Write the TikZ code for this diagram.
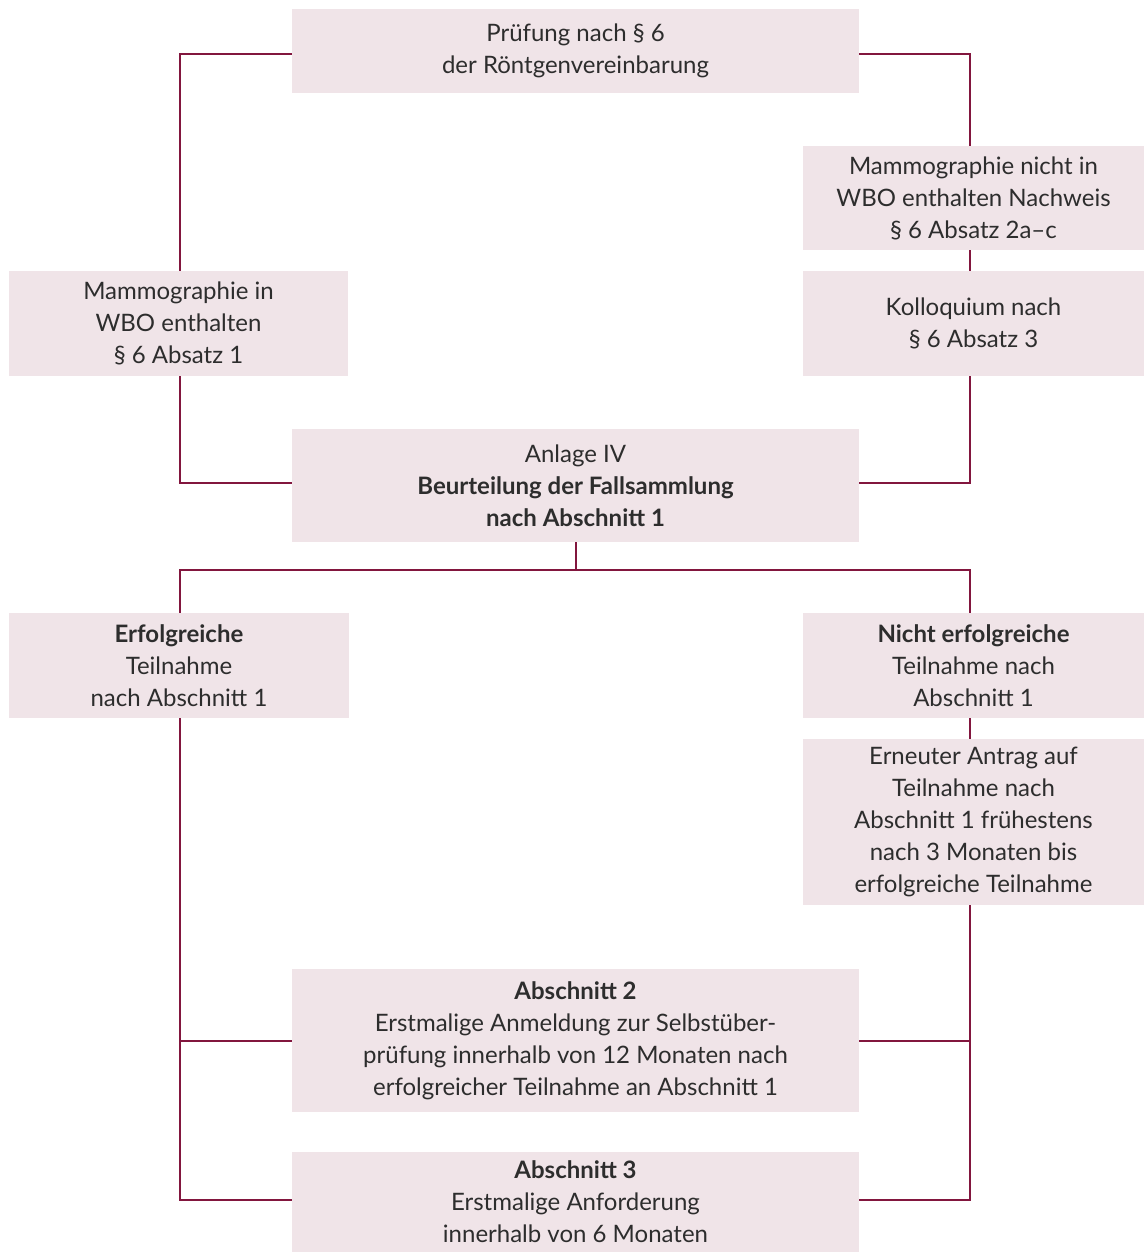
\documentclass[tikz,border=0pt]{standalone}
\usepackage{fontspec}
\setmainfont{Lato}
\definecolor{boxfill}{RGB}{240,228,232}
\definecolor{conncol}{RGB}{130,22,62}
\definecolor{txt}{RGB}{45,45,45}
\begin{document}
\begin{tikzpicture}[x=1pt,y=-1pt,
  box/.style={fill=boxfill, draw=none, inner sep=0pt, align=center, text=txt,
    font=\fontsize{24}{32}\selectfont},
  conn/.style={draw=conncol, line width=2pt}]
\useasboundingbox (0,0) rectangle (1147,1252);
\node[box, minimum width=567, minimum height=84] (top) at (575.5,51) {Prüfung nach § 6\\der Röntgenvereinbarung};
\node[box, minimum width=341, minimum height=104] (r1) at (973.5,198) {Mammographie nicht in\\WBO enthalten Nachweis\\§ 6 Absatz 2a–c};
\node[box, minimum width=341, minimum height=105] (r2) at (973.5,323.5) {Kolloquium nach\\§ 6 Absatz 3};
\node[box, minimum width=339, minimum height=105] (l1) at (178.5,323.5) {Mammographie in\\WBO enthalten\\§ 6 Absatz 1};
\node[box, minimum width=567, minimum height=113] (ctr) at (575.5,485.5) {Anlage IV\\\textbf{Beurteilung der Fallsammlung}\\\textbf{nach Abschnitt 1}};
\node[box, minimum width=340, minimum height=105] (l2) at (179,665.5) {\textbf{Erfolgreiche}\\Teilnahme\\nach Abschnitt 1};
\node[box, minimum width=341, minimum height=105] (r3) at (973.5,665.5) {\textbf{Nicht erfolgreiche}\\Teilnahme nach\\Abschnitt 1};
\node[box, minimum width=341, minimum height=166] (r4) at (973.5,822) {Erneuter Antrag auf\\Teilnahme nach\\Abschnitt 1 frühestens\\nach 3 Monaten bis\\erfolgreiche Teilnahme};
\node[box, minimum width=567, minimum height=143] (a2) at (575.5,1040.5) {\textbf{Abschnitt 2}\\Erstmalige Anmeldung zur Selbstüber-\\prüfung innerhalb von 12 Monaten nach\\erfolgreicher Teilnahme an Abschnitt 1};
\node[box, minimum width=567, minimum height=100] (a3) at (575.5,1202) {\textbf{Abschnitt 3}\\Erstmalige Anforderung\\innerhalb von 6 Monaten};
\coordinate (ls) at (180,0);
\coordinate (rs) at (970,0);
\coordinate (split) at (576,570);
% top part
\draw[conn] ([yshift=-3]top.west) -| (ls |- l1.north);
\draw[conn] (ls |- l1.south) |- ([yshift=2.5]ctr.west);
\draw[conn] ([yshift=-3]top.east) -| (rs |- r1.north);
\draw[conn] (rs |- r1.south) -- (rs |- r2.north);
\draw[conn] (rs |- r2.south) |- ([yshift=2.5]ctr.east);
% split
\draw[conn] (ctr.south -| split) -- (split);
\draw[conn] (ls |- l2.north) |- (split) -| (rs |- r3.north);
\draw[conn] (rs |- r3.south) -- (rs |- r4.north);
% lower spines
\draw[conn] (ls |- l2.south) |- ([yshift=2]a3.west);
\draw[conn] (ls |- a2.west) -- (a2.west);
\draw[conn] (rs |- r4.south) |- ([yshift=2]a3.east);
\draw[conn] (rs |- a2.east) -- (a2.east);
\end{tikzpicture}
\end{document}
